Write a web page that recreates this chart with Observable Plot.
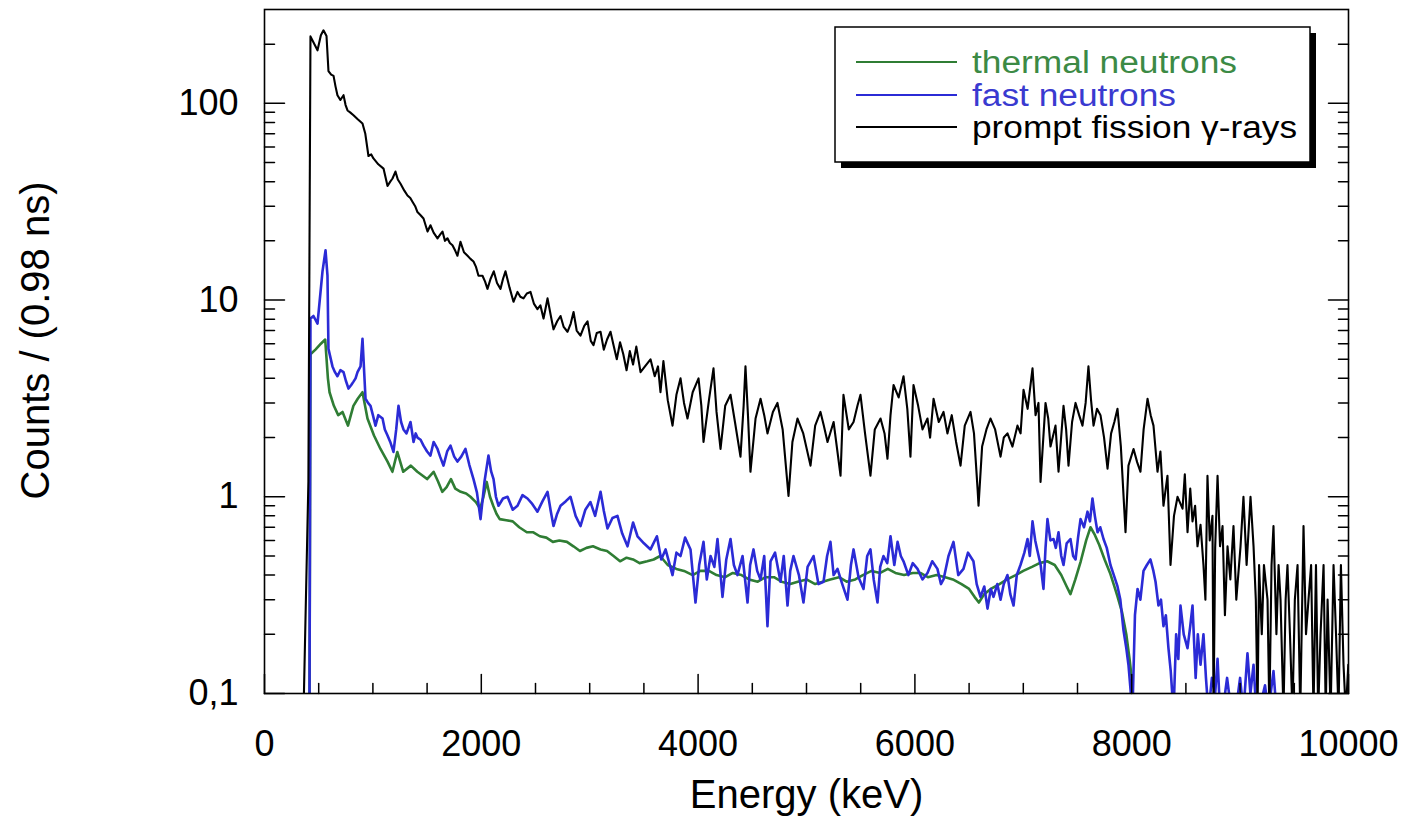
<!DOCTYPE html>
<html>
<head>
<meta charset="utf-8">
<script src="https://cdn.jsdelivr.net/npm/d3@7"></script>
<script src="https://cdn.jsdelivr.net/npm/@observablehq/plot@0.6"></script>
<style>
  html, body { margin: 0; padding: 0; background: #fff; }
  #wrap { position: relative; width: 1406px; height: 816px; }
  #legend { position: absolute; left: 0; top: 0; pointer-events: none; }
</style>
</head>
<body>
<div id="wrap"></div>
<script>
// ---------- data ----------
const seriesNames = ["thermal neutrons", "fast neutrons", "prompt fission \u03b3-rays"];
const seriesColors = ["#2f7d34", "#2b2bd6", "#000000"];

const xTicksMajor = [0, 2000, 4000, 6000, 8000, 10000];
const xTickLabels = ["0", "2000", "4000", "6000", "8000", "10000"];
const xTicksMinor = [500, 1000, 1500, 2500, 3000, 3500, 4500, 5000, 5500, 6500, 7000, 7500, 8500, 9000, 9500];
const yTicksMajor = [0.1, 1, 10, 100];
const yTickLabels = ["0,1", "1", "10", "100"];
const yTicksMinor = [0.2, 0.3, 0.4, 0.5, 0.6, 0.7, 0.8, 0.9, 2, 3, 4, 5, 6, 7, 8, 9, 20, 30, 40, 50, 60, 70, 80, 90, 200];

const thermalEnergy = [415,424,470,520,560,585,600,640,680,720,770,820,860,904,950,1010,1070,1135,1180,1225,1280,1350,1410,1460,1500,1560,1600,1640,1680,1720,1760,1810,1860,1900,1950,1990,2020,2050,2080,2110,2140,2170,2230,2290,2350,2420,2480,2540,2600,2660,2720,2790,2850,2910,2970,3030,3100,3160,3220,3280,3340,3400,3460,3530,3590,3650,3720,3800,3870,3950,4020,4100,4170,4250,4320,4400,4470,4550,4620,4700,4770,4850,4920,5000,5080,5150,5220,5300,5370,5450,5520,5600,5680,5750,5820,5900,5980,6050,6120,6200,6280,6350,6430,6500,6550,6590,6640,6700,6780,6850,6930,7000,7080,7150,7220,7290,7350,7400,7435,7480,7530,7580,7620,7660,7700,7750,7800,7840,7870,7910,7950,7980,8000,8020];
const thermalCounts = [0.08,5.3,5.6,6.0,6.3,4.0,3.4,2.9,2.6,2.7,2.3,2.9,3.15,3.4,2.5,2.05,1.75,1.51,1.34,1.69,1.34,1.44,1.34,1.28,1.23,1.34,1.2,1.06,1.12,1.23,1.1,1.06,1.04,1.0,0.94,0.87,1.0,1.19,1.0,0.9,0.82,0.77,0.76,0.75,0.7,0.66,0.66,0.63,0.62,0.59,0.6,0.59,0.56,0.53,0.55,0.56,0.54,0.53,0.5,0.47,0.49,0.48,0.46,0.47,0.48,0.5,0.45,0.43,0.42,0.40,0.42,0.42,0.40,0.39,0.41,0.40,0.38,0.37,0.39,0.39,0.37,0.36,0.37,0.38,0.36,0.37,0.38,0.39,0.37,0.38,0.40,0.42,0.41,0.43,0.41,0.40,0.41,0.41,0.39,0.40,0.39,0.38,0.36,0.34,0.31,0.29,0.32,0.34,0.36,0.38,0.40,0.42,0.44,0.46,0.47,0.45,0.40,0.35,0.32,0.38,0.47,0.6,0.7,0.64,0.57,0.48,0.41,0.35,0.31,0.26,0.2,0.15,0.12,0.08];

const fastEnergy = [415,424,452,489,535,563,581,590,627,650,673,700,729,750,775,800,821,840,858,886,904,932,955,978,1000,1024,1050,1089,1110,1135,1160,1190,1215,1236,1260,1282,1310,1347,1375,1395,1411,1440,1467,1500,1531,1560,1596,1620,1651,1685,1716,1750,1780,1815,1854,1890,1928,1960,1993,2030,2066,2090,2113,2135,2159,2200,2242,2290,2334,2380,2426,2470,2518,2565,2611,2640,2666,2700,2731,2780,2823,2870,2915,2960,3007,3050,3100,3130,3164,3210,3256,3300,3349,3400,3441,3500,3561,3620,3660,3700,3764,3800,3838,3880,3930,3976,4010,4050,4080,4115,4150,4179,4225,4260,4299,4330,4363,4410,4456,4480,4511,4545,4576,4610,4640,4668,4710,4760,4790,4825,4850,4880,4930,4972,5010,5065,5110,5157,5190,5221,5250,5286,5330,5378,5410,5434,5480,5526,5560,5590,5620,5655,5680,5710,5745,5775,5810,5840,5870,5895,5940,5980,6024,6070,6116,6160,6208,6240,6264,6310,6356,6400,6448,6490,6540,6570,6605,6640,6670,6700,6725,6760,6790,6820,6854,6880,6910,6940,6974,7010,7039,7060,7085,7110,7131,7160,7186,7205,7223,7250,7279,7300,7325,7350,7371,7400,7435,7460,7482,7505,7528,7560,7592,7615,7638,7660,7685,7710,7740,7770,7804,7835,7869,7895,7924,7950,7970,8007,8030,8054,8080,8109,8140,8173,8200,8220,8247,8270,8293,8315,8339,8360,8386,8410,8430,8450,8480,8515,8540,8561,8590,8610,8635,8662,8685,8708,8740,8770,8792,8815,8838,8880,8920,8958,9000,9030,9068,9095,9124,9150,9170,9230,9260,9308,9336];
const fastCounts = [0.08,8.05,8.3,7.6,14,17.9,13.3,5.65,4.6,4.3,4.1,4.4,4.3,3.9,3.55,3.7,3.85,4.0,4.3,4.6,6.35,3.15,3.0,2.9,2.6,2.3,2.6,2.5,2.2,2.05,1.9,1.69,2.2,2.9,2.4,2.2,2.1,2.4,1.9,2.1,2.0,1.95,1.82,1.7,1.62,1.9,1.75,1.6,1.44,1.7,1.82,1.6,1.51,1.6,1.75,1.45,1.23,1.05,0.77,1.2,1.62,1.35,1.23,1.0,0.9,0.98,1.0,0.86,0.9,1.02,0.98,0.92,0.84,0.95,1.06,0.85,0.71,0.82,0.9,0.95,1.0,0.8,0.71,0.86,0.94,0.8,1.06,0.85,0.69,0.78,0.8,0.65,0.56,0.74,0.63,0.58,0.54,0.63,0.48,0.54,0.40,0.52,0.5,0.62,0.54,0.29,0.45,0.59,0.38,0.5,0.44,0.61,0.31,0.48,0.61,0.45,0.40,0.5,0.29,0.45,0.54,0.42,0.38,0.5,0.22,0.47,0.52,0.37,0.5,0.28,0.42,0.5,0.4,0.29,0.44,0.5,0.36,0.37,0.5,0.59,0.4,0.43,0.36,0.30,0.45,0.54,0.39,0.34,0.5,0.54,0.38,0.29,0.44,0.5,0.46,0.63,0.45,0.59,0.5,0.47,0.4,0.46,0.43,0.38,0.41,0.47,0.43,0.36,0.38,0.5,0.59,0.4,0.43,0.52,0.47,0.36,0.31,0.35,0.27,0.34,0.31,0.36,0.30,0.36,0.40,0.32,0.28,0.4,0.45,0.52,0.61,0.5,0.75,0.6,0.53,0.45,0.34,0.55,0.77,0.6,0.61,0.55,0.66,0.5,0.45,0.58,0.61,0.5,0.48,0.62,0.77,0.7,0.84,0.75,0.98,0.8,0.66,0.7,0.61,0.55,0.45,0.4,0.35,0.3,0.21,0.17,0.14,0.08,0.25,0.34,0.3,0.42,0.45,0.48,0.42,0.37,0.28,0.3,0.22,0.25,0.17,0.13,0.08,0.2,0.15,0.28,0.2,0.17,0.22,0.28,0.12,0.2,0.14,0.2,0.12,0.08,0.12,0.1,0.15,0.08,0.08,0.12,0.08,0.08,0.12,0.08,0.16,0.1,0.14,0.08,0.08,0.11,0.08,0.13,0.08];

const gammaEnergy = [360,405,424,450,489,520,544,572,590,615,637,655,673,700,729,748,766,790,821,860,904,930,959,985,1005,1050,1098,1135,1160,1181,1208,1230,1255,1290,1319,1345,1365,1390,1411,1440,1467,1504,1531,1560,1596,1620,1642,1665,1688,1710,1734,1760,1780,1808,1840,1873,1900,1928,1950,1974,2011,2035,2057,2085,2115,2145,2177,2200,2223,2260,2297,2334,2360,2389,2420,2454,2485,2518,2545,2574,2590,2611,2640,2666,2700,2731,2760,2795,2825,2851,2880,2915,2950,2980,3010,3035,3065,3100,3130,3160,3192,3220,3250,3280,3310,3340,3370,3400,3430,3469,3510,3561,3600,3630,3653,3680,3720,3764,3800,3838,3870,3902,3950,4004,4030,4050,4100,4142,4170,4207,4250,4299,4340,4391,4420,4437,4460,4483,4530,4576,4610,4640,4690,4732,4780,4834,4870,4917,4970,5037,5080,5129,5160,5194,5250,5314,5341,5390,5434,5470,5498,5540,5590,5630,5683,5720,5747,5775,5803,5850,5895,5930,5959,5987,6030,6070,6116,6140,6172,6220,6264,6300,6340,6380,6421,6460,6513,6545,6578,6587,6620,6660,6697,6740,6790,6820,6854,6900,6946,6975,7002,7040,7085,7113,7140,7159,7205,7230,7251,7297,7325,7371,7395,7417,7450,7482,7515,7546,7575,7601,7625,7648,7680,7712,7745,7777,7810,7840,7869,7900,7943,7970,8017,8050,8081,8110,8146,8175,8201,8238,8265,8293,8330,8358,8390,8423,8469,8490,8515,8540,8561,8585,8607,8635,8662,8680,8699,8720,8745,8755,8770,8792,8815,8838,8860,8884,8910,8939,8965,9004,9031,9060,9096,9124,9145,9161,9175,9200,9220,9253,9270,9290,9308,9335,9355,9373,9400,9420,9437,9460,9483,9505,9530,9555,9585,9608,9631,9655,9677,9700,9720,9742,9770,9790,9807,9835,9862,9885,9908,9930,9954,9975,9998];
const gammaCounts = [0.08,1.2,219,205,186,222,235,220,146,140,138,122,110,104,110,98,92,90,87,83,79,70,54,55,52.5,49,46.6,38,40,41.5,45,41,39,36,34,33,31.6,30,28,27,26,22.3,24,22,20.6,21.5,22.3,20,20.6,19.5,19,17.8,16.8,19.8,17.5,16.8,16.2,15.7,14.8,13.3,13.3,12.4,11.4,12.8,14,12.2,11.4,12.8,14,11.6,9.8,11,10.4,10.2,10.8,11,9.6,9,9.4,8.05,8.9,10.2,8.4,7.1,7.8,8.3,7.3,6.9,7.6,8.7,7.0,6.6,7.4,7.8,6.2,5.9,6.8,6.9,5.6,6.3,6.9,5.9,5.0,6.1,5.3,4.4,5.5,4.7,5.8,4.3,4.6,5.0,4.1,4.6,3.4,4.9,3.1,2.3,3.3,4.0,3.0,2.5,3.4,4.0,2.9,1.9,3.1,4.5,2.7,1.75,2.9,3.3,2.4,1.6,2.9,4.6,2.6,1.34,2.5,3.15,2.6,2.1,2.7,3.0,2.2,1.01,1.9,2.5,2.1,1.44,2.3,2.7,2.3,1.9,2.4,1.28,3.3,2.2,2.4,2.9,3.3,2.1,1.28,2.2,2.5,2.1,1.56,2.6,3.7,3.2,4.1,2.8,1.6,3.7,2.9,2.2,2.5,2.0,3.15,2.4,2.7,2.1,2.6,1.9,1.44,2.3,2.7,2.1,1.1,0.9,1.8,2.2,2.5,2.2,1.6,2.0,2.1,1.8,2.3,2.1,3.5,2.8,4.5,2.6,3.0,1.19,3.0,2.5,1.8,2.3,1.34,2.9,2.2,1.44,2.4,3.0,2.6,2.3,3.0,4.6,3.1,2.3,2.8,2.6,2.0,1.39,2.1,2.4,2.8,1.8,0.66,1.44,1.75,1.5,1.34,2.2,3.15,2.6,2.3,1.34,1.7,0.9,1.28,0.45,0.8,1.0,0.87,1.3,0.66,1.1,0.75,0.9,0.56,0.72,0.45,0.3,1.28,0.6,0.8,0.08,0.55,1.28,0.56,0.71,0.25,0.56,0.38,0.71,0.3,0.56,1.0,0.45,1.0,0.56,0.3,0.08,0.45,0.2,0.45,0.30,0.08,0.45,0.71,0.2,0.45,0.30,0.08,0.3,0.45,0.2,0.08,0.3,0.45,0.08,0.71,0.2,0.30,0.45,0.08,0.45,0.08,0.2,0.45,0.08,0.3,0.08,0.45,0.2,0.08,0.45,0.14,0.08,0.14];

// ---------- build tables ----------
const toRows = (E, C) => E.map((e, i) => ({energy: e, counts: C[i]}));
const thermal = toRows(thermalEnergy, thermalCounts);
const fast = toRows(fastEnergy, fastCounts);
const gamma = toRows(gammaEnergy, gammaCounts);

const xLabel = new Map(xTicksMajor.map((v, i) => [v, xTickLabels[i]]));
const yLabel = new Map(yTicksMajor.map((v, i) => [v, yTickLabels[i]]));
const tickShape = {draw(ctx, l) { ctx.moveTo(0, 0); ctx.lineTo(0, -l); }};
const tk = (data, opts) => Plot.vector(data, {anchor: "start", shape: tickShape, stroke: "black", strokeWidth: 1.5, ...opts});

const chart = Plot.plot({
  width: 1406,
  height: 816,
  marginLeft: 264,
  marginRight: 58,
  marginTop: 9,
  marginBottom: 123,
  style: {fontFamily: "'Liberation Sans', Arial, Helvetica, sans-serif", fontSize: "36px", color: "black", background: "white"},
  x: {domain: [0, 10000], axis: null},
  y: {type: "log", domain: [0.1, 300], axis: null},
  marks: [
    Plot.line(thermal, {x: "energy", y: "counts", stroke: seriesColors[0], strokeWidth: 2.6, clip: true}),
    Plot.line(fast, {x: "energy", y: "counts", stroke: seriesColors[1], strokeWidth: 2.6, clip: true}),
    Plot.line(gamma, {x: "energy", y: "counts", stroke: seriesColors[2], strokeWidth: 2.1, clip: true}),
    Plot.frame({stroke: "black", strokeWidth: 1.6}),
    // inward ticks
    tk(yTicksMajor, {y: d => d, frameAnchor: "left", rotate: 90, length: 20}),
    tk(yTicksMinor, {y: d => d, frameAnchor: "left", rotate: 90, length: 10}),
    tk(yTicksMajor, {y: d => d, frameAnchor: "right", rotate: -90, length: 20}),
    tk(yTicksMinor, {y: d => d, frameAnchor: "right", rotate: -90, length: 10}),
    tk(xTicksMajor, {x: d => d, frameAnchor: "bottom", rotate: 0, length: 19}),
    tk(xTicksMinor, {x: d => d, frameAnchor: "bottom", rotate: 0, length: 10}),
    // tick labels
    Plot.axisY(yTicksMajor, {anchor: "left", tickSize: 0, tickPadding: 26, fontSize: 36, tickFormat: d => yLabel.get(d), label: null}),
    Plot.axisX(xTicksMajor, {anchor: "bottom", tickSize: 0, tickPadding: 37, fontSize: 36, tickFormat: d => xLabel.get(d), label: null}),
    // axis titles
    Plot.text(["Energy (keV)"], {frameAnchor: "bottom", dy: 114, lineAnchor: "bottom", textAnchor: "middle", fontSize: 40, text: d => d}),
    Plot.text(["Counts / (0.98 ns)"], {frameAnchor: "left", dx: -216, dy: -11, rotate: -90, lineAnchor: "bottom", textAnchor: "middle", fontSize: 40, text: d => d})
  ]
});

const wrap = document.getElementById("wrap");
wrap.appendChild(chart);

// ---------- legend overlay ----------
const lg = d3.select(wrap).append("svg").attr("id", "legend").attr("width", 1406).attr("height", 816)
  .style("font-family", "'Liberation Sans', Arial, Helvetica, sans-serif");
lg.append("rect").attr("x", 841).attr("y", 33).attr("width", 475).attr("height", 135).attr("fill", "black");
lg.append("rect").attr("x", 835).attr("y", 27).attr("width", 475).attr("height", 135).attr("fill", "white").attr("stroke", "black").attr("stroke-width", 1.5);
const rowY = [62, 95, 127];
const textLen = [265, 204, 325];
seriesNames.forEach((name, i) => {
  lg.append("line").attr("x1", 856).attr("x2", 957).attr("y1", rowY[i]).attr("y2", rowY[i])
    .attr("stroke", seriesColors[i]).attr("stroke-width", 2);
  lg.append("text").attr("x", 972).attr("y", rowY[i] + 11).attr("font-size", 31)
    .attr("fill", i === 0 ? "#3c8a45" : i === 1 ? "#3a3ad0" : "#000")
    .attr("textLength", textLen[i]).attr("lengthAdjust", "spacingAndGlyphs")
    .text(name);
});
</script>
</body>
</html>
